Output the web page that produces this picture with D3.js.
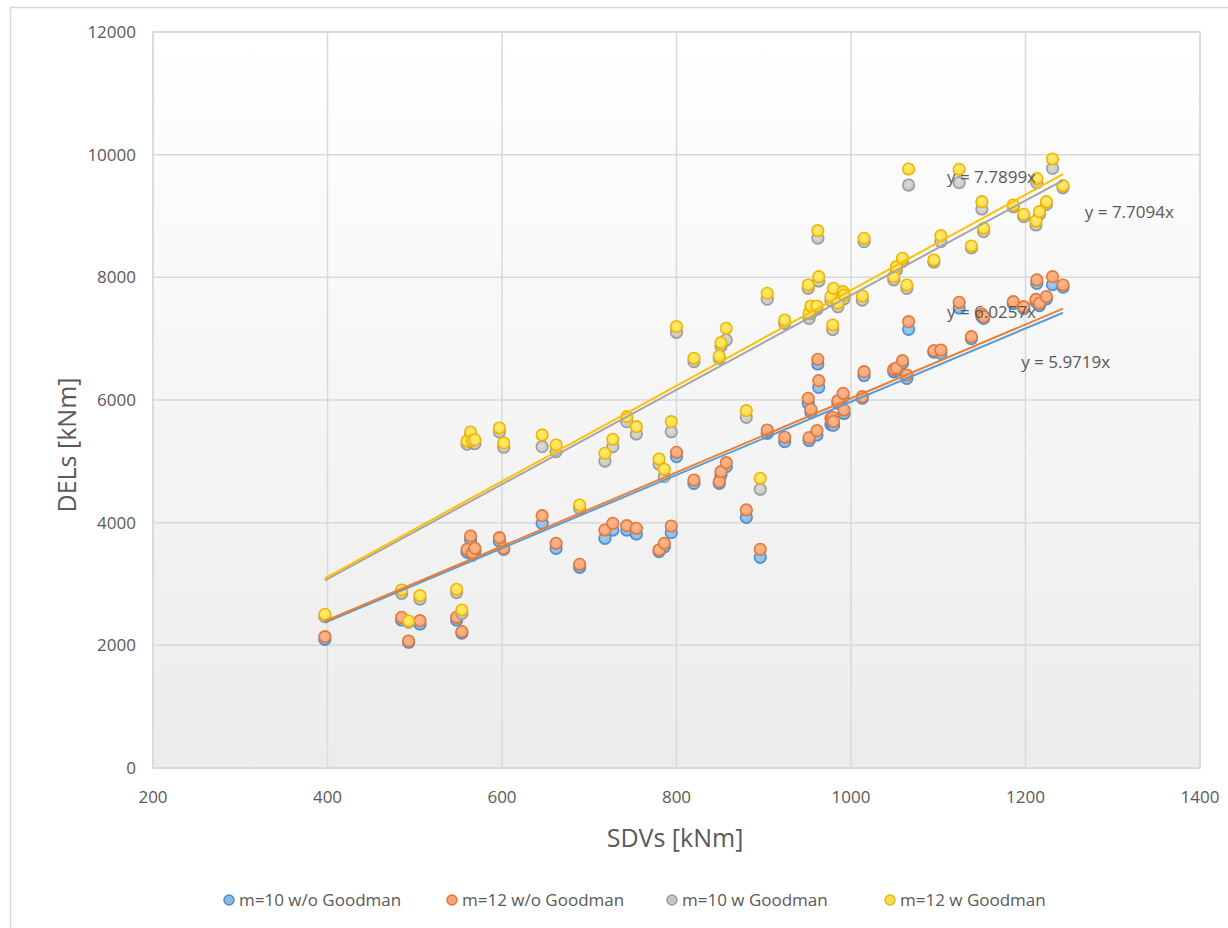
<!DOCTYPE html>
<html>
<head>
<meta charset="UTF-8">
<title>DELs vs SDVs</title>
<script src="https://cdn.jsdelivr.net/npm/d3@7"></script>
<style>
  body { margin: 0; background: #fff; }
  text { font-family: "Open Sans", "Segoe UI", sans-serif; fill: #595959; }
</style>
</head>
<body>
<script>
// SDV values (x) shared by all four series
var sdv = [397,485,493,506,548,554,560,564,566,569,597,602,646,662,689,718,727,743,754,780,786,794,
           800,820,849,851,857,880,896,904,924,951,952,954,961,962,963,977,979,980,985,991,992,
           1013,1015,1049,1052,1059,1064,1066,1095,1103,1124,1138,1150,1152,1186,1198,1212,1213,1216,1224,1231,1243];
var m10_wo = [2098,2413,2050,2348,2413,2200,3520,3720,3470,3540,3700,3565,3989,3581,3272,3745,3880,3880,3815,3527,3608,3837,
              5076,4641,4640,4780,4913,4087,3435,5457,5321,5950,5340,5800,5430,6587,6206,5600,5592,5590,5950,6050,5780,
              6030,6400,6460,6480,6600,6353,7152,6780,6760,7500,7000,7360,7330,7570,7490,7600,7902,7540,7650,7880,7840];
var m12_wo = [2141,2457,2070,2402,2457,2222,3565,3783,3510,3581,3755,3581,4114,3663,3321,3880,3989,3951,3908,3554,3663,3946,
              5147,4696,4668,4831,4978,4207,3565,5511,5392,6027,5386,5848,5500,6663,6315,5700,5718,5650,5989,6109,5837,
              6054,6462,6500,6520,6641,6408,7277,6804,6815,7593,7032,7400,7358,7603,7521,7640,7957,7576,7685,8011,7875];
var m10_w  = [2467,2848,2380,2755,2860,2522,5280,5420,5300,5290,5480,5230,5239,5157,4234,5005,5239,5647,5446,4957,4750,5483,
              7104,6626,6680,6880,6978,5718,4544,7644,7250,7820,7330,7413,7480,8640,7940,7620,7150,7760,7520,7700,7650,
              7630,8581,7960,8120,8260,7820,9505,8250,8581,9543,8480,9114,8745,9150,8990,8853,9543,9030,9190,9777,9460];
var m12_w  = [2506,2902,2397,2810,2913,2576,5331,5478,5340,5350,5543,5300,5430,5266,4288,5130,5359,5728,5565,5038,4870,5647,
              7196,6680,6717,6934,7169,5826,4723,7739,7304,7875,7420,7532,7532,8760,8010,7685,7223,7820,7580,7766,7710,
              7696,8636,8011,8174,8310,7875,9766,8282,8679,9761,8511,9233,8799,9179,9027,8918,9610,9070,9233,9929,9494];

var seriesNames = ["m=10 w/o Goodman", "m=12 w/o Goodman", "m=10 w Goodman", "m=12 w Goodman"];
var seriesData = [m10_wo, m12_wo, m10_w, m12_w];
var slopes = [5.9719, 6.0257, 7.7094, 7.7899];
var xTicks = [200, 400, 600, 800, 1000, 1200, 1400];
var yTicks = [0, 2000, 4000, 6000, 8000, 10000, 12000];

var colors = ["#5B9BD5", "#ED7D31", "#A5A5A5", "#FFC000"];
var fills  = ["#8ab8e4", "#f4a47a", "#c6c6c6", "#ffd75a"];
var strokes = ["#4f8fcf", "#e2773a", "#9c9c9c", "#eeb500"];

var W = 1228, H = 928;
var pL = 153, pR = 1200, pT = 32, pB = 768;

var svg = d3.select("body").append("svg").attr("width", W).attr("height", H);

var defs = svg.append("defs");
var bg = defs.append("linearGradient").attr("id", "plotbg").attr("x1", 0).attr("y1", 0).attr("x2", 0).attr("y2", 1);
bg.append("stop").attr("offset", "0%").attr("stop-color", "#ffffff");
bg.append("stop").attr("offset", "100%").attr("stop-color", "#ececec");

colors.forEach(function(c, i) {
  var g = defs.append("radialGradient").attr("id", "mk" + i).attr("cx", "45%").attr("cy", "40%").attr("r", "60%");
  g.append("stop").attr("offset", "0%").attr("stop-color", d3.color(fills[i]).brighter(0.3));
  g.append("stop").attr("offset", "100%").attr("stop-color", fills[i]);
});

// outer chart border
svg.append("rect").attr("x", 10.5).attr("y", 7.5).attr("width", W).attr("height", H)
  .attr("fill", "#fff").attr("stroke", "#d9d9d9").attr("stroke-width", 1.5);

var x = d3.scaleLinear().domain([200, 1400]).range([pL, pR]);
var y = d3.scaleLinear().domain([0, 12000]).range([pB, pT]);

svg.append("rect").attr("x", pL).attr("y", pT).attr("width", pR - pL).attr("height", pB - pT)
  .attr("fill", "url(#plotbg)");

// gridlines
svg.append("g").selectAll("line").data(yTicks).enter().append("line")
  .attr("x1", pL).attr("x2", pR)
  .attr("y1", function(d){ return y(d); }).attr("y2", function(d){ return y(d); })
  .attr("stroke", "#d9d9d9").attr("stroke-width", 1.5);
svg.append("g").selectAll("line").data(xTicks).enter().append("line")
  .attr("y1", pT).attr("y2", pB)
  .attr("x1", function(d){ return x(d); }).attr("x2", function(d){ return x(d); })
  .attr("stroke", "#d9d9d9").attr("stroke-width", 1.5);

// tick labels
svg.append("g").selectAll("text").data(yTicks).enter().append("text")
  .attr("x", 136).attr("y", function(d){ return y(d); })
  .attr("dy", "0.35em").attr("text-anchor", "end").attr("font-size", "17px")
  .text(function(d){ return d; });
svg.append("g").selectAll("text").data(xTicks).enter().append("text")
  .attr("x", function(d){ return x(d); }).attr("y", 797)
  .attr("dy", "0.35em").attr("text-anchor", "middle").attr("font-size", "17px")
  .text(function(d){ return d; });

// axis titles
svg.append("text").attr("x", 675).attr("y", 838).attr("dy", "0.35em")
  .attr("text-anchor", "middle").attr("font-size", "25px").text("SDVs [kNm]");
svg.append("text").attr("transform", "translate(67,445) rotate(-90)").attr("dy", "0.35em")
  .attr("text-anchor", "middle").attr("font-size", "25px").text("DELs [kNm]");

// points
seriesData.forEach(function(vals, i) {
  svg.append("g").selectAll("circle").data(sdv).enter().append("circle")
    .attr("cx", function(d){ return x(d); })
    .attr("cy", function(d, j){ return y(vals[j]); })
    .attr("r", 5.8)
    .attr("fill", "url(#mk" + i + ")")
    .attr("stroke", strokes[i]).attr("stroke-width", 1.6);
});

// linear trendlines through origin
var xmin = d3.min(sdv), xmax = d3.max(sdv);
slopes.forEach(function(k, i) {
  svg.append("line")
    .attr("x1", x(xmin)).attr("y1", y(k * xmin))
    .attr("x2", x(xmax)).attr("y2", y(k * xmax))
    .attr("stroke", colors[i]).attr("stroke-width", 2);
});

// trendline equations (anchored in data units, same order as slopes)
var eqPos = [[1195, 6620], [1110, 7435], [1268, 9065], [1110, 9636]];
slopes.forEach(function(k, i) {
  svg.append("text").attr("x", x(eqPos[i][0])).attr("y", y(eqPos[i][1]))
    .attr("dy", "0.35em").attr("font-size", "17px")
    .text("y = " + k.toFixed(4) + "x");
});

// plot border
svg.append("rect").attr("x", pL).attr("y", pT).attr("width", pR - pL).attr("height", pB - pT)
  .attr("fill", "none").attr("stroke", "#d9d9d9").attr("stroke-width", 1.5);

// legend
var legX = [229, 452, 672, 890];
var leg = svg.append("g").selectAll("g").data(seriesNames).enter().append("g")
  .attr("transform", function(d, i){ return "translate(" + legX[i] + ",900)"; });
leg.append("circle").attr("r", 5).attr("fill", function(d, i){ return fills[i]; })
  .attr("stroke", function(d, i){ return strokes[i]; }).attr("stroke-width", 1.5);
leg.append("text").attr("x", 10).attr("dy", "0.35em").attr("font-size", "17px").text(function(d){ return d; });
</script>
</body>
</html>
